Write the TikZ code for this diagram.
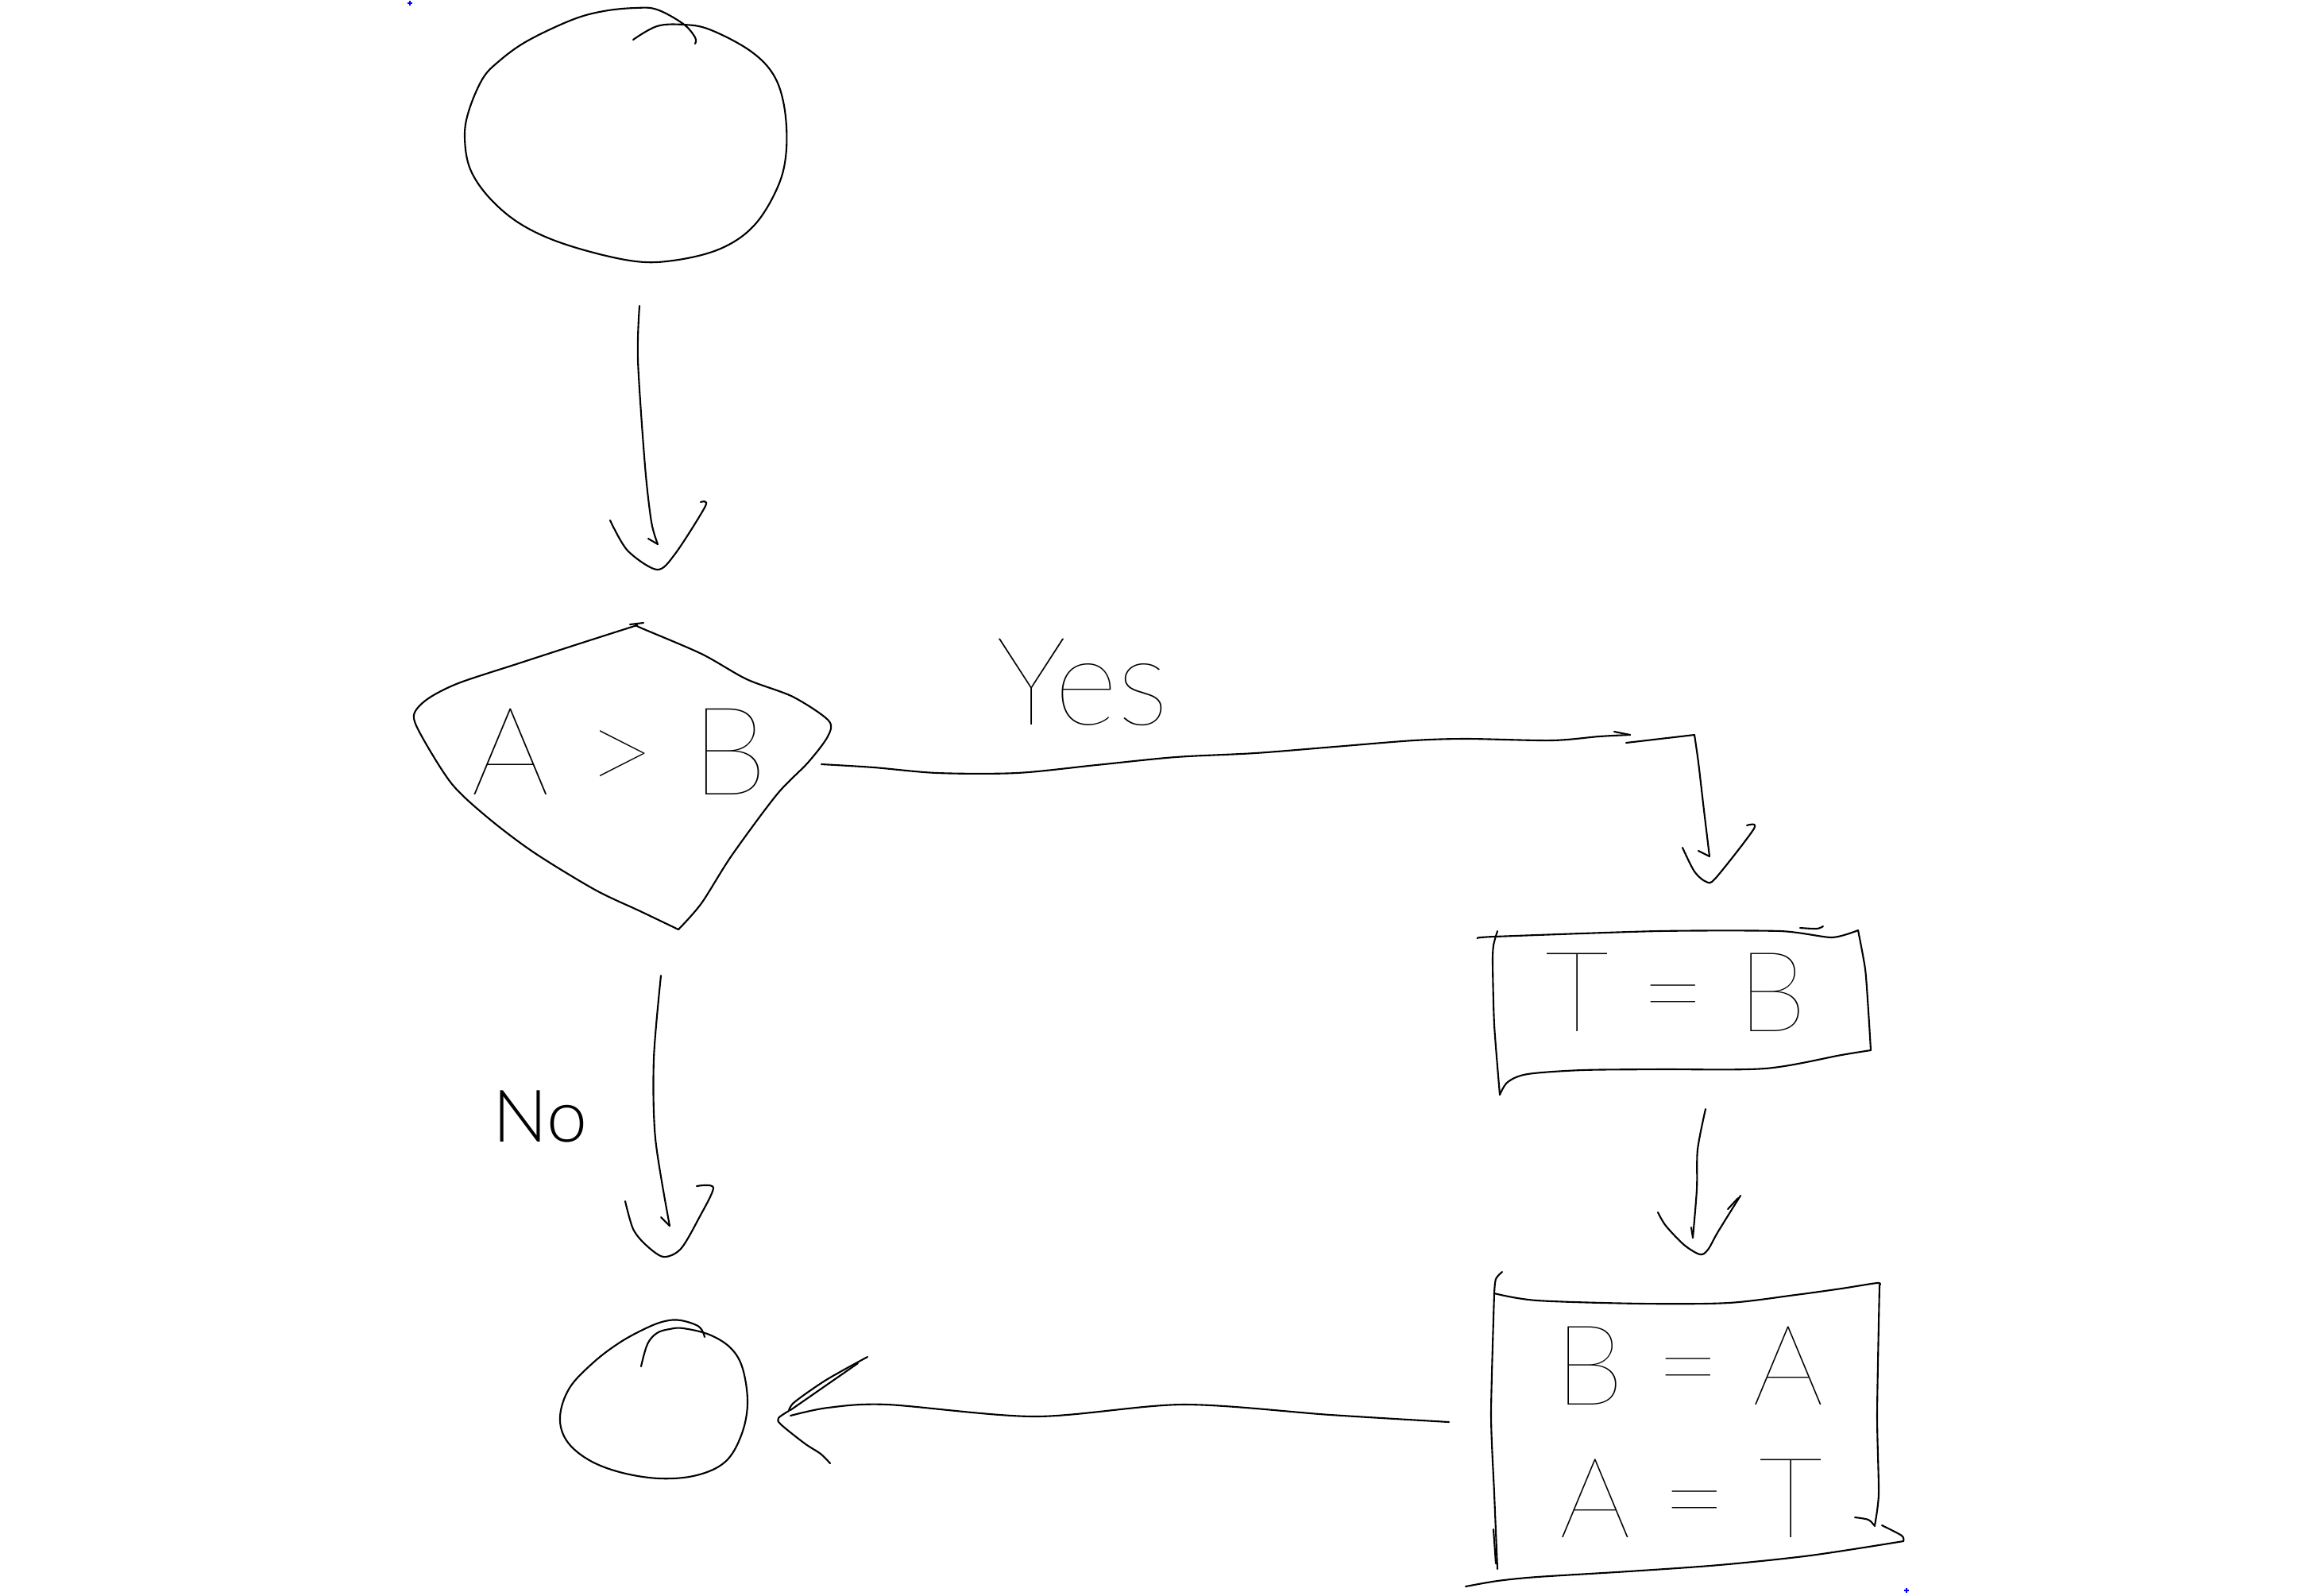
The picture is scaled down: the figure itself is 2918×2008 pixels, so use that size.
\documentclass[tikz,border=0pt]{standalone}
\usepackage{fontspec}
\newfontfamily\handfont{Lato Hairline}
\newfontfamily\handlight{Lato Light}
\begin{document}
\begin{tikzpicture}[x=0.01cm,y=-0.01cm,
  stroke/.style={line width=0.6pt, line cap=round, line join=round},
  lbl/.style={inner sep=0pt, anchor=base},
  big/.style={font=\handfont\fontsize{44}{44}\selectfont},
  mid/.style={font=\handfont\fontsize{40}{40}\selectfont},
  small/.style={font=\handlight\fontsize{26}{26}\selectfont},
  bluemark/.style={blue, line width=0.4pt}]
\useasboundingbox (0,0) rectangle (2918,2008);

% connector end points
\coordinate (a1s) at (805,385);  \coordinate (a1t) at (828,685);
\coordinate (ys)  at (1034,962); \coordinate (yc)  at (2052,925);
\coordinate (yb)  at (2133,925); \coordinate (yt)  at (2152,1078);
\coordinate (a2s) at (2147,1396); \coordinate (a2t) at (2131,1558);
\coordinate (a3s) at (1824,1790); \coordinate (a3t) at (995,1782);
\coordinate (a4s) at (832,1228); \coordinate (a4t) at (843,1543);

% start circle
\draw[stroke] plot[smooth,tension=0.6] coordinates {(875,55) (875,47) (860,30) (827,12) (800,10) (760,14) (720,25) (663,52) (627,78) (607,100) (590,140) (585,173) (592,213) (617,250) (657,283) (713,308) (793,328) (847,328) (907,313) (950,283) (980,233) (990,187) (987,133) (973,93) (943,63) (893,37) (860,31) (827,33) (797,50)};

% arrow 1
\draw[stroke] plot[smooth] coordinates {(a1s) (803,453) (812,587) (820,657) (a1t)};
\draw[stroke] (a1t) -- (816,678);
\draw[stroke] plot[smooth] coordinates {(768,655) (790,693) (827,717) (850,697) (888,637) (882,632)};

% decision
\draw[stroke] plot[smooth,tension=0.5] coordinates {(802,787) (730,810) (653,835) (577,860) (538,880) (521,900) (531,927) (569,987) (615,1030) (672,1073) (749,1120) (806,1147) (854,1170)};
\draw[stroke] plot[smooth,tension=0.5] coordinates {(854,1170) (883,1137) (921,1077) (978,1000) (1017,960) (1042,927) (1043,907) (998,877) (940,855) (883,823) (806,790) (802,787)};
\draw[stroke] (793,786) -- (810,784);
\node[lbl,big] (cond) at (780,1000) {A > B};

% yes connector
\draw[stroke] plot[smooth] coordinates {(ys) (1100,966) (1180,973) (1280,973) (1380,963) (1480,953) (1580,948) (1680,940) (1780,932) (1847,930) (1953,932) (2013,927) (yc)};
\draw[stroke] (2032,921) -- (yc);
\draw[stroke] (2047,935) -- (yb);
\draw[stroke] plot[smooth] coordinates {(yb) (2138,960) (2145,1020) (yt)};
\draw[stroke] (2138,1071) -- (yt);
\draw[stroke] plot[smooth] coordinates {(2118,1067) (2133,1097) (2148,1110) (2160,1105) (2208,1043) (2199,1039)};
\node[lbl,big] (yes) at (1363,912) {Yes};

% T = B box
\draw[stroke] plot[smooth,tension=0.4] coordinates {(1860,1181) (1881,1179) (2088,1172) (2241,1172) (2306,1180) (2339,1171)};
\draw[stroke] plot[smooth,tension=0.4] coordinates {(2339,1171) (2348,1220) (2352,1273) (2355,1322)};
\draw[stroke] plot[smooth,tension=0.5] coordinates {(2355,1322) (2318,1328) (2222,1345) (2088,1346) (1992,1347) (1923,1352) (1898,1362) (1888,1378)};
\draw[stroke] plot[smooth,tension=0.4] coordinates {(1885,1172) (1880,1190) (1879,1213) (1881,1290) (1888,1378)};
\draw[stroke] plot[smooth] coordinates {(2266,1168) (2287,1169) (2295,1166)};
\node[lbl,mid] (tb) at (2110,1298) {T = B};

% arrow 2
\draw[stroke] plot[smooth] coordinates {(a2s) (2137,1447) (2136,1497) (a2t)};
\draw[stroke] (2129,1545) -- (a2t);
\draw[stroke] plot[smooth] coordinates {(2087,1526) (2097,1543) (2120,1567) (2140,1579) (2150,1573) (2163,1550) (2191,1505)};
\draw[stroke] (2175,1522) -- (2188,1508);

% B = A / A = T box
\draw[stroke] plot[smooth] coordinates {(1891,1601) (1883,1610) (1881,1628)};
\draw[stroke] plot[smooth,tension=0.5] coordinates {(1881,1628) (1935,1637) (2069,1641) (2176,1640) (2260,1630) (2318,1622) (2363,1615) (2366,1618)};
\draw[stroke] plot[smooth,tension=0.4] coordinates {(2366,1618) (2363,1780) (2365,1880) (2360,1920)};
\draw[stroke] plot[smooth] coordinates {(2335,1910) (2352,1913) (2360,1921)};
\draw[stroke] plot[smooth] coordinates {(2369,1920) (2394,1933) (2396,1940)};
\draw[stroke] plot[smooth,tension=0.5] coordinates {(2396,1940) (2279,1958) (2164,1970) (2050,1978) (1935,1985) (1885,1990) (1845,1997)};
\draw[stroke] plot[smooth,tension=0.4] coordinates {(1881,1628) (1877,1780) (1881,1880) (1885,1975)};
\draw[stroke] (1880,1925) -- (1883,1968);
\node[lbl,mid] (ba) at (2127,1768) {B = A};
\node[lbl,mid] (at) at (2129,1935) {A = T};

% arrow 3 to end
\draw[stroke] plot[smooth] coordinates {(a3s) (1675,1781) (1489,1768) (1303,1783) (1117,1768) (1042,1772) (a3t)};
\draw[stroke] plot[smooth] coordinates {(1092,1708) (1040,1737) (1000,1765) (993,1776)};
\draw[stroke] (1080,1716) -- (995,1775);
\draw[stroke] plot[smooth] coordinates {(993,1776) (980,1785) (983,1793) (1013,1817) (1033,1830) (1045,1842)};

% end circle
\draw[stroke] plot[smooth,tension=0.6] coordinates {(887,1683) (880,1670) (857,1662) (837,1663) (813,1672) (780,1690) (747,1715) (717,1747) (705,1783) (713,1813) (740,1837) (780,1853) (830,1861) (877,1857) (913,1840) (933,1807) (941,1767) (935,1723) (920,1697) (893,1680) (860,1672) (843,1673) (827,1678) (815,1692) (807,1720)};

% no arrow
\draw[stroke] plot[smooth] coordinates {(a4s) (823,1333) (825,1433) (a4t)};
\draw[stroke] (832,1532) -- (a4t);
\draw[stroke] plot[smooth] coordinates {(787,1512) (797,1547) (813,1567) (835,1582) (857,1572) (880,1533) (898,1495) (877,1493)};
\node[lbl,small] (no) at (680,1437) {No};

% small blue marks
\draw[bluemark] (513,4) -- (519,4) (516,1) -- (516,7);
\draw[bluemark] (2397,2002) -- (2403,2002) (2400,1999) -- (2400,2005);
\end{tikzpicture}
\end{document}
